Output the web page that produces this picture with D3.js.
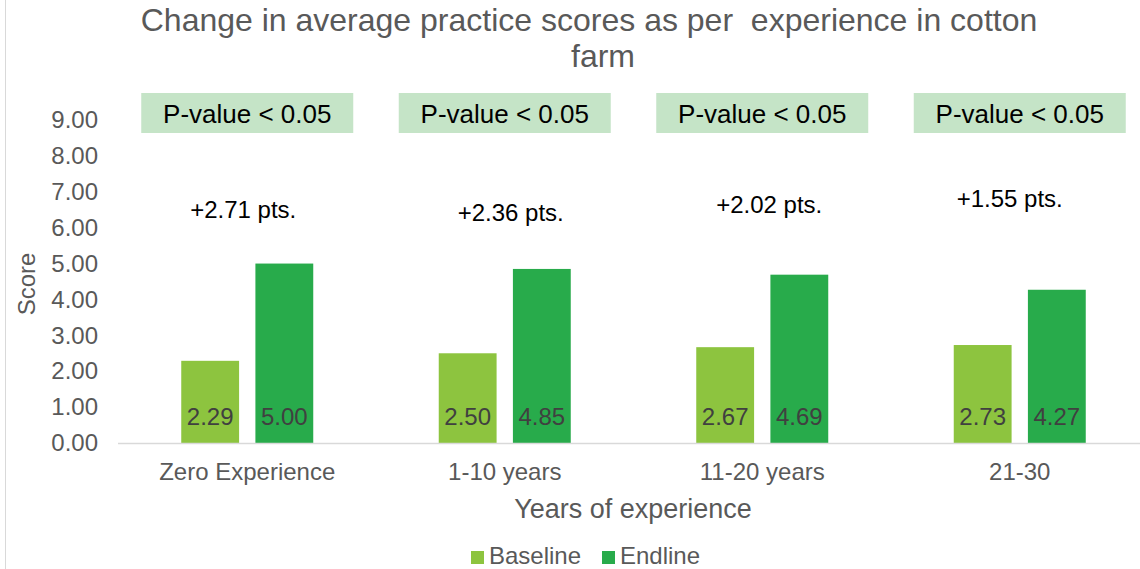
<!DOCTYPE html>
<html>
<head>
<meta charset="utf-8">
<script src="https://cdn.jsdelivr.net/npm/d3@7"></script>
<style>
  body { margin: 0; background: #fff; }
  svg { font-family: "Liberation Sans", Arial, sans-serif; }
</style>
</head>
<body>
<svg id="chart" width="1140" height="569"></svg>
<script>
// Chart data
var categories = ["Zero Experience", "1-10 years", "11-20 years", "21-30"];
var seriesNames = ["Baseline", "Endline"];
var baseline = [2.29, 2.50, 2.67, 2.73];
var endline = [5.00, 4.85, 4.69, 4.27];
var changeLabels = ["+2.71 pts.", "+2.36 pts.", "+2.02 pts.", "+1.55 pts."];
var pLabels = ["P-value < 0.05", "P-value < 0.05", "P-value < 0.05", "P-value < 0.05"];
var yTicks = [0, 1, 2, 3, 4, 5, 6, 7, 8, 9];

// hand placed text boxes (as in the original)
var changePos = [{dx: -4, y: 218}, {dx: 6, y: 221}, {dx: 7, y: 213}, {dx: -10, y: 207}];

var colors = ["#8DC43F", "#28AB4B"];

var svg = d3.select("#chart");

// Set scales
var x0 = d3.scaleBand()
    .domain(categories)
    .range([118.5, 1148.5])
    .padding(0);

var x1 = d3.scaleBand()
    .domain(seriesNames)
    .range([x0.bandwidth() / 2 - 66, x0.bandwidth() / 2 + 66])
    .paddingInner(0.22);

var y = d3.scaleLinear()
    .domain([0, 9])
    .range([443, 120]);

// chart area border
svg.append("line")
    .attr("x1", 5.5).attr("x2", 5.5)
    .attr("y1", 0).attr("y2", 569)
    .style("stroke", "#d9d9d9");

// Title
var title = svg.append("text")
    .attr("text-anchor", "middle")
    .style("font-size", "32px")
    .style("fill", "#595959");
title.append("tspan").attr("x", 589).attr("y", 31)
    .text("Change in average practice scores as per\u00a0 experience in cotton");
title.append("tspan").attr("x", 603).attr("y", 67)
    .text("farm");

// Y axis (labels only)
var yAxis = d3.axisLeft(y)
    .tickValues(yTicks)
    .tickFormat(d3.format(".2f"))
    .tickSize(0)
    .tickPadding(0);

var yG = svg.append("g")
    .attr("transform", "translate(98,0)")
    .call(yAxis);
yG.select(".domain").remove();
yG.selectAll("text")
    .style("font-size", "24px")
    .style("fill", "#595959")
    .style("font-family", "'Liberation Sans', Arial, sans-serif");

svg.append("text")
    .attr("transform", "translate(35,284) rotate(-90)")
    .attr("text-anchor", "middle")
    .style("font-size", "24px")
    .style("fill", "#595959")
    .text("Score");

// Bars
var groups = svg.selectAll(".slice")
    .data(categories)
    .enter().append("g")
    .attr("class", "slice")
    .attr("transform", function(d) { return "translate(" + x0(d) + ",0)"; });

var bars = groups.selectAll("rect")
    .data(function(d, i) {
        return [{name: "Baseline", value: baseline[i]}, {name: "Endline", value: endline[i]}];
    })
    .enter().append("rect")
    .attr("x", function(d) { return x1(d.name); })
    .attr("width", x1.bandwidth())
    .attr("y", function(d) { return y(d.value); })
    .attr("height", function(d) { return y(0) - y(d.value); })
    .style("fill", function(d, i) { return colors[i]; });

// value labels inside bars
groups.selectAll(".val")
    .data(function(d, i) {
        return [{name: "Baseline", value: baseline[i]}, {name: "Endline", value: endline[i]}];
    })
    .enter().append("text")
    .attr("class", "val")
    .attr("x", function(d) { return x1(d.name) + x1.bandwidth() / 2; })
    .attr("y", 425)
    .attr("text-anchor", "middle")
    .style("font-size", "24px")
    .style("fill", "#404040")
    .text(function(d) { return d.value.toFixed(2); });

// X axis
var xAxis = d3.axisBottom(x0).tickSize(0).tickPadding(0);
var xG = svg.append("g")
    .attr("transform", "translate(0,443)")
    .call(xAxis);
xG.select(".domain").remove();
xG.selectAll("text")
    .attr("dy", 0)
    .attr("y", 37)
    .style("font-size", "24px")
    .style("fill", "#595959")
    .style("font-family", "'Liberation Sans', Arial, sans-serif");

svg.append("line")
    .attr("x1", 118).attr("x2", 1140)
    .attr("y1", 443.5).attr("y2", 443.5)
    .style("stroke", "#d9d9d9")
    .style("stroke-width", 1.5);

svg.append("text")
    .attr("x", 633)
    .attr("y", 518)
    .attr("text-anchor", "middle")
    .style("font-size", "27px")
    .style("fill", "#595959")
    .text("Years of experience");

// P-value boxes
var pBox = svg.selectAll(".pbox")
    .data(pLabels)
    .enter().append("g")
    .attr("class", "pbox")
    .attr("transform", function(d, i) { return "translate(" + (x0(categories[i]) + x0.bandwidth() / 2) + ",0)"; });

pBox.append("rect")
    .attr("x", -106)
    .attr("y", 93)
    .attr("width", 212)
    .attr("height", 40)
    .style("fill", "#C5E4C7");

pBox.append("text")
    .attr("x", 0)
    .attr("y", 123)
    .attr("text-anchor", "middle")
    .style("font-size", "26px")
    .style("fill", "#000")
    .text(function(d) { return d; });

// change annotations
svg.selectAll(".change")
    .data(changeLabels)
    .enter().append("text")
    .attr("class", "change")
    .attr("x", function(d, i) { return x0(categories[i]) + x0.bandwidth() / 2 + changePos[i].dx; })
    .attr("y", function(d, i) { return changePos[i].y; })
    .attr("text-anchor", "middle")
    .style("font-size", "24px")
    .style("fill", "#000")
    .text(function(d) { return d; });

// Legend
var legendX = [471, 602];
var legend = svg.selectAll(".legend")
    .data(seriesNames)
    .enter().append("g")
    .attr("class", "legend")
    .attr("transform", function(d, i) { return "translate(" + legendX[i] + ",551)"; });

legend.append("rect")
    .attr("width", 13)
    .attr("height", 13)
    .style("fill", function(d, i) { return colors[i]; });

legend.append("text")
    .attr("x", 18)
    .attr("y", 13)
    .style("font-size", "24px")
    .style("fill", "#595959")
    .text(function(d) { return d; });
</script>
</body>
</html>
